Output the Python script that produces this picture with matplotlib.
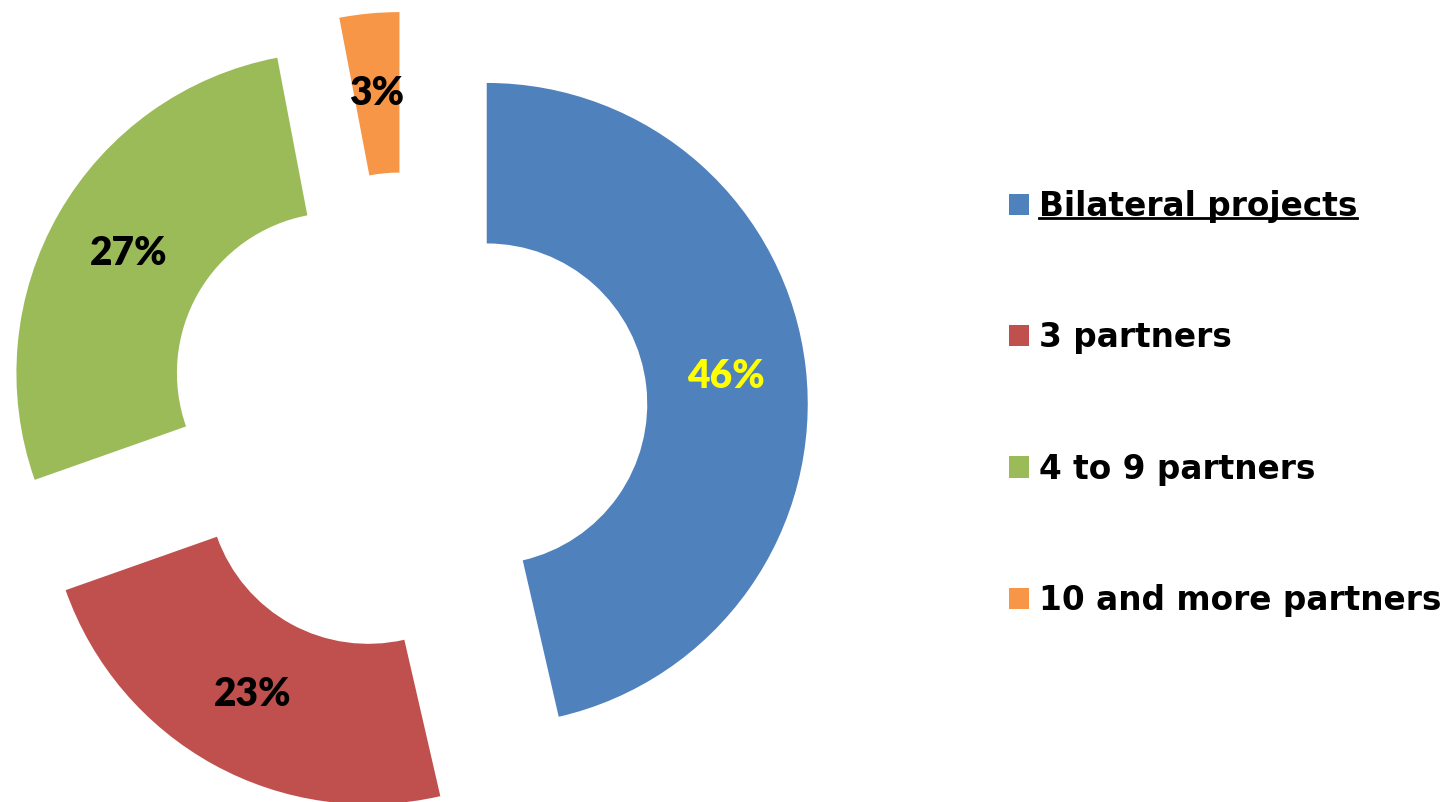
import matplotlib.pyplot as plt
from matplotlib.lines import Line2D

# data
labels = ['Bilateral projects', '3 partners', '4 to 9 partners', '10 and more partners']
shares = [46.4, 23.2, 27.4, 3.0]
colors = ['#4F81BD', '#C0504D', '#9BBB59', '#F79646']
pct_colors = ['#FFFF00', 'black', 'black', 'black']

fig = plt.figure(figsize=(14.52, 8.02), dpi=100)
ax = fig.add_axes([0, 0, 1, 1])

wedges, texts, autotexts = ax.pie(
    shares, colors=colors, startangle=90, counterclock=False,
    explode=[0.25] * 4, radius=1, autopct='%.0f%%', pctdistance=0.75,
    wedgeprops=dict(width=0.5, linewidth=0, edgecolor='none'),
    textprops=dict(fontsize=28, fontweight='heavy', family='Lato'))
for t, c in zip(autotexts, pct_colors):
    t.set_color(c)

# pixel-matched limits (pie centre at 407, 413 px; radius 321 px)
r_px = 321
ax.set_xlim(-407 / r_px, (1452 - 407) / r_px)
ax.set_ylim(-(802 - 413) / r_px, 413 / r_px)
ax.set_aspect('equal')
ax.axis('off')

leg = fig.legend(wedges, labels, loc='upper left', bbox_to_anchor=(0.6745, 0.800),
                 frameon=False, prop=dict(family='DejaVu Sans', weight='bold', size=23.6),
                 labelspacing=3.0, handlelength=0.62, handleheight=0.62, handletextpad=0.3)

# underline first legend entry
fig.canvas.draw()
bb = leg.get_texts()[0].get_window_extent().transformed(fig.transFigure.inverted())
fig.add_artist(Line2D([bb.x0, bb.x1], [bb.y0 + 0.006, bb.y0 + 0.006],
                      transform=fig.transFigure, color='black', lw=2))

plt.savefig('out.png', dpi=100)
